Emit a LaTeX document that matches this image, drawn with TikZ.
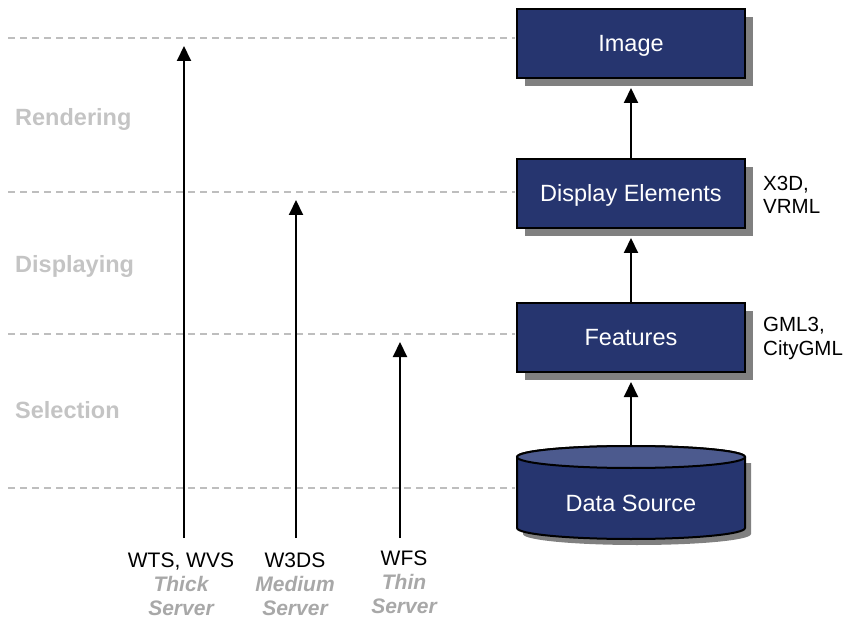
\documentclass[tikz,border=0pt]{standalone}
\usepackage{fontspec}
\setmainfont{Liberation Sans}
\usetikzlibrary{arrows.meta,shadows}
\definecolor{navy}{RGB}{38,53,111}
\definecolor{navylight}{RGB}{76,90,142}
\definecolor{shadowgray}{RGB}{128,128,128}
\definecolor{phasegray}{RGB}{196,196,196}
\definecolor{servergray}{RGB}{168,168,168}
\definecolor{dashgray}{RGB}{190,190,190}
\tikzset{
  stagebox/.style={draw=black, line width=2pt, fill=navy, text=white,
    minimum width=228pt, minimum height=69pt, inner sep=0pt,
    text height=16.8pt, text depth=0pt,
    font=\fontsize{23.5}{28}\selectfont,
    general shadow={fill=shadowgray, shadow xshift=8pt, shadow yshift=-8pt}},
  sidelabel/.style={anchor=west, inner sep=0pt, align=left,
    font=\fontsize{20.5}{23.5}\selectfont},
  phaselabel/.style={anchor=west, inner sep=0pt, text=phasegray,
    font=\fontsize{23.5}{28}\selectfont\bfseries},
  servlabel/.style={anchor=north, inner sep=0pt, align=center,
    font=\fontsize{21}{24}\selectfont},
  tierline/.style={dashgray, line width=1.8pt, dash pattern=on 7pt off 5pt},
  uparrow/.style={line width=2pt, -{Triangle[length=15pt,width=14pt]}},
  flowarrow/.style={line width=2pt, -{Triangle[length=15pt,width=14pt]}, shorten >=9pt}
}
\begin{document}
\begin{tikzpicture}[x=1pt,y=1pt]
\useasboundingbox (0,0) rectangle (846,-620);
% tier dashed lines
\draw[tierline] (8,-38) -- (515,-38);
\draw[tierline] (8,-192) -- (515,-192);
\draw[tierline] (8,-334) -- (515,-334);
\draw[tierline] (8,-488) -- (515,-488);
% phase labels
\node[phaselabel] (rend) at (15,-119) {Rendering};
\node[phaselabel] (disl) at (15,-266) {Displaying};
\node[phaselabel] (sel) at (15,-410) {Selection};
% boxes
\node[stagebox] (img) at (631,-43.5) {Image};
\node[stagebox] (disp) at (631,-193.5) {Display Elements};
\node[stagebox] (feat) at (631,-337.5) {Features};
% cylinder
\fill[shadowgray] (523,-463) -- (523,-534) arc[start angle=180,end angle=360,x radius=114pt,y radius=11pt] -- (751,-463) -- cycle;
\draw[line width=2pt, fill=navy] (517,-457) -- (517,-528) arc[start angle=180,end angle=360,x radius=114pt,y radius=11pt] -- (745,-457) arc[start angle=0,end angle=180,x radius=114pt,y radius=11pt] -- cycle;
\draw[line width=2pt, fill=navylight] (631,-457) ellipse[x radius=114pt,y radius=11pt];
\node[minimum width=228pt, minimum height=92pt, inner sep=0pt, text=white,
  text height=16.8pt, text depth=0pt,
  font=\fontsize{23.5}{28}\selectfont] (ds) at (631,-492) {\raisebox{-11pt}{Data Source}};
% side labels
\node[sidelabel] (fmt1) at ([xshift=17pt,yshift=-1.5pt]disp.east) {X3D,\\VRML};
\node[sidelabel] (fmt2) at ([xshift=17pt,yshift=-1pt]feat.east) {GML3,\\CityGML};
% flow arrows
\draw[flowarrow] (ds.north) -- (feat.south);
\draw[flowarrow] (feat.north) -- (disp.south);
\draw[flowarrow] (disp.north) -- (img.south);
% service arrows
\coordinate (b1) at (184,-538); \coordinate (t1) at (184,-46);
\coordinate (b2) at (296,-538); \coordinate (t2) at (296,-200);
\coordinate (b3) at (400,-538); \coordinate (t3) at (400,-342);
\draw[uparrow] (b1) -- (t1);
\draw[uparrow] (b2) -- (t2);
\draw[uparrow] (b3) -- (t3);
% service labels
\node[servlabel] (s1) at (181,-553) {WTS, WVS\\\textcolor{servergray}{\bfseries\itshape Thick}\\\textcolor{servergray}{\bfseries\itshape Server}};
\node[servlabel] (s2) at (295,-553) {W3DS\\\textcolor{servergray}{\bfseries\itshape Medium}\\\textcolor{servergray}{\bfseries\itshape Server}};
\node[servlabel] (s3) at (404,-551) {WFS\\\textcolor{servergray}{\bfseries\itshape Thin}\\\textcolor{servergray}{\bfseries\itshape Server}};
\end{tikzpicture}
\end{document}
